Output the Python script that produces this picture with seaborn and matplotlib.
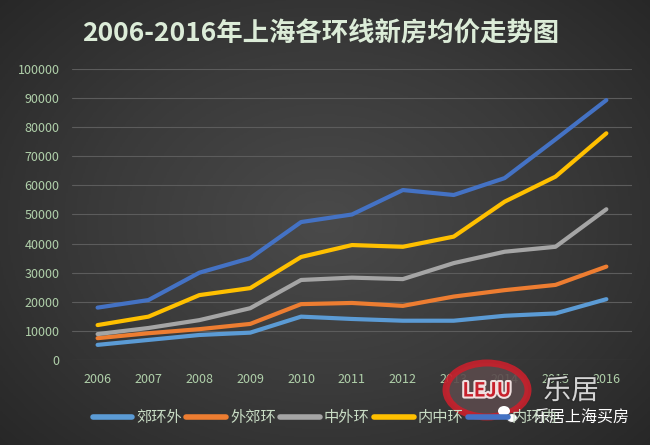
import seaborn as sns
import pandas as pd
import numpy as np
import matplotlib.pyplot as plt
import matplotlib.patheffects as pe
from matplotlib.patches import Ellipse

years = ['2006', '2007', '2008', '2009', '2010', '2011', '2012', '2013', '2014', '2015', '2016']
series_names = ['郊环外', '外郊环', '中外环', '内中环', '内环内']
jiao_huan_wai = [5200, 6900, 8600, 9400, 14900, 14100, 13500, 13500, 15200, 16000, 20900]
wai_jiao_huan = [7500, 9200, 10600, 12400, 19200, 19600, 18600, 21800, 24000, 25800, 32100]
zhong_wai_huan = [8900, 11000, 13700, 17800, 27500, 28300, 27800, 33300, 37200, 38900, 51800]
nei_zhong_huan = [12000, 14900, 22300, 24700, 35400, 39500, 38900, 42400, 54400, 63000, 77900]
nei_huan_nei = [18000, 20600, 30000, 35000, 47400, 50000, 58400, 56700, 62500, 75800, 89300]
colors = ['#5B9BD5', '#ED7D31', '#A5A5A5', '#FFC000', '#4472C4']

# long-form table for seaborn
all_values = [jiao_huan_wai, wai_jiao_huan, zhong_wai_huan, nei_zhong_huan, nei_huan_nei]
rows = []
for name, vals in zip(series_names, all_values):
	for i, v in enumerate(vals):
		rows.append({'x': i, 'year': years[i], 'price': v, 'ring': name})
df = pd.DataFrame(rows)

sns.set_style('dark')
plt.rcParams['font.family'] = ['Noto Sans CJK SC', 'DejaVu Sans']

fig = plt.figure(figsize=(6.5, 4.45), dpi=100)

# dark radial background
bg = fig.add_axes([0, 0, 1, 1])
yy, xx = np.mgrid[-1:1:300j, -1:1:400j]
r = np.sqrt(xx ** 2 + (yy * 0.9) ** 2)
bg.imshow(r, cmap=sns.blend_palette(['#4a4a4a', '#3a3a3a', '#262626'], as_cmap=True),
	aspect='auto', extent=[0, 1, 0, 1], vmin=0, vmax=1.4)
bg.axis('off')

ax = fig.add_axes([0.111, 0.191, 0.861, 0.654])
ax.set_facecolor('none')
sns.lineplot(
	data=df, x='x', y='price', hue='ring', hue_order=series_names,
	palette=colors, linewidth=3, ax=ax, legend=False,
)

ax.set_xlim(-0.5, 10.5)
ax.set_ylim(0, 100000)
ax.set_xticks(range(len(years)))
ax.set_xticklabels(years)
ax.set_yticks(np.arange(0, 100001, 10000))
ax.yaxis.grid(True, color='#5c5c5c', linewidth=0.8)
ax.xaxis.grid(False)
for s in ax.spines.values():
	s.set_visible(False)
ax.tick_params(colors='#b0d0aa', labelsize=9, length=0, pad=9)
ax.set_xlabel('')
ax.set_ylabel('')

fig.text(0.494, 0.923, '2006-2016年上海各环线新房均价走势图', ha='center', va='center',
	fontsize=19, fontweight='bold', color='#dcecd8')

# legend
handles = [plt.Line2D([], [], color=c, linewidth=4) for c in colors]
fig.legend(handles, series_names, loc='center', bbox_to_anchor=(0.5, 0.062), ncol=5,
	frameon=False, fontsize=11, labelcolor='#c8dcc4', handlelength=2.6,
	columnspacing=0.3, handletextpad=0.25)

# watermark
wm = fig.add_axes([0, 0, 1, 1], facecolor='none')
wm.set_xlim(0, 650)
wm.set_ylim(445, 0)
wm.axis('off')
wm.add_patch(Ellipse((487, 390), 82, 54, facecolor='#5a4a4c', edgecolor='#c8202c',
	linewidth=5, alpha=0.9))
wm.text(487, 391, 'LEJU', ha='center', va='center', fontsize=14, fontweight='bold',
	color='#c8202c', path_effects=[pe.withStroke(linewidth=3, foreground='#f0e0e0')])
wm.text(571, 391, '乐居', ha='center', va='center', fontsize=20, color='#d4d4d4',
	path_effects=[pe.withStroke(linewidth=2, foreground='#2a2a2a')])
wm.add_patch(Ellipse((504, 411), 12, 10, facecolor='white', edgecolor='none'))
wm.add_patch(Ellipse((512, 418), 11, 9, facecolor='white', edgecolor='#444444', linewidth=0.8))
wm.text(581, 417, '乐居上海买房', ha='center', va='center', fontsize=11.5, color='white')

fig.savefig('out.png', dpi=100)
